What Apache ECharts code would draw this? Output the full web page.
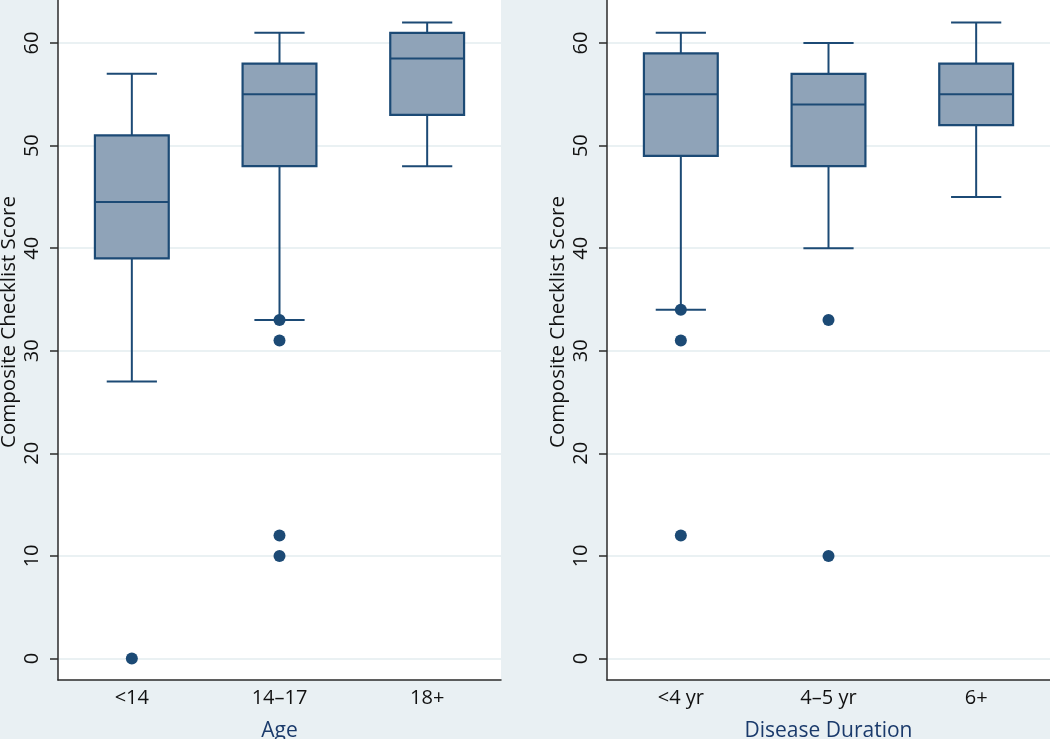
<!DOCTYPE html>
<html><head><meta charset="utf-8">
<script src="https://cdn.jsdelivr.net/npm/echarts@6/dist/echarts.min.js"></script>
<style>html,body{margin:0;padding:0;background:#e9f0f3}#c{width:1050px;height:739px}</style>
</head><body><div id="c"></div>
<script>
// ---- data ----
const ageCategories = ['<14', '14\u201317', '18+'];
// [low whisker, Q1, median, Q3, high whisker]
const ageBoxes = [
  [27, 39, 44.5, 51, 57],
  [33, 48, 55, 58, 61],
  [48, 53, 58.5, 61, 62]
];
const ageOutliers = [[0, 0], [1, 33], [1, 31], [1, 12], [1, 10]];

const durCategories = ['<4 yr', '4\u20135 yr', '6+'];
const durBoxes = [
  [34, 49, 55, 59, 61],
  [40, 48, 54, 57, 60],
  [45, 52, 55, 58, 62]
];
const durOutliers = [[0, 34], [0, 31], [0, 12], [1, 33], [1, 10]];

const yTicks = [0, 10, 20, 30, 40, 50, 60];
const yTitle = 'Composite Checklist Score';
const xTitles = ['Age', 'Disease Duration'];

// ---- styles ----
const FONT = 'Open Sans';
const NAVY = '#1c4a75';
const FILL = '#8fa3b8';
const AXIS = '#2b2b2b';

function boxRender(params, api) {
  const x = api.value(0);
  const lo = api.coord([x, api.value(1)]);
  const q1 = api.coord([x, api.value(2)]);
  const md = api.coord([x, api.value(3)]);
  const q3 = api.coord([x, api.value(4)]);
  const hi = api.coord([x, api.value(5)]);
  const band = api.size([1, 0])[0];
  const hw = band * 0.25, cw = band * 0.17;
  const cx = md[0];
  const ls = {stroke: NAVY, lineWidth: 2, fill: null};
  return {
    type: 'group',
    children: [
      {type: 'line', shape: {x1: cx, y1: q3[1], x2: cx, y2: hi[1]}, style: ls},
      {type: 'line', shape: {x1: cx, y1: q1[1], x2: cx, y2: lo[1]}, style: ls},
      {type: 'line', shape: {x1: cx - cw, y1: hi[1], x2: cx + cw, y2: hi[1]}, style: ls},
      {type: 'line', shape: {x1: cx - cw, y1: lo[1], x2: cx + cw, y2: lo[1]}, style: ls},
      {type: 'rect', shape: {x: cx - hw, y: q3[1], width: 2 * hw, height: q1[1] - q3[1]},
        style: {fill: FILL, stroke: NAVY, lineWidth: 2.2}},
      {type: 'line', shape: {x1: cx - hw, y1: md[1], x2: cx + hw, y2: md[1]}, style: ls}
    ]
  };
}

function xAxis(i, cats) {
  return {
    type: 'category', gridIndex: i, data: cats,
    axisLine: {onZero: false, lineStyle: {color: AXIS, width: 1.5}},
    axisTick: {show: false},
    axisLabel: {fontFamily: FONT, fontSize: 20, color: '#111', margin: 8},
    name: xTitles[i], nameLocation: 'middle', nameGap: 41,
    nameTextStyle: {fontFamily: FONT, fontSize: 21, color: '#1a3a6b'}
  };
}
function yAxis(i) {
  return {
    type: 'value', gridIndex: i, min: -2.1, max: 64.2,
    axisLine: {show: true, lineStyle: {color: AXIS, width: 1.5}},
    axisTick: {show: true, length: 8, customValues: yTicks, lineStyle: {color: AXIS, width: 1.5}},
    axisLabel: {customValues: yTicks, rotate: 90, fontFamily: FONT, fontSize: 20, color: '#111', margin: 16},
    splitLine: {show: true, lineStyle: {color: '#e3ecef', width: 1.5}},
    name: yTitle, nameLocation: 'middle', nameGap: 38,
    nameTextStyle: {fontFamily: FONT, fontSize: 20.5, color: '#111', padding: [0, 0, 0, 36]}
  };
}
function boxData(boxes) { return boxes.map((b, i) => [i].concat(b)); }

const chart = echarts.init(document.getElementById('c'));
chart.setOption({
  backgroundColor: '#e9f0f3',
  animation: false,
  grid: [
    {left: 58, right: 549, top: 0, bottom: 59, show: true, backgroundColor: '#fff', borderWidth: 0,
      containLabel: false, outerBoundsMode: 'none'},
    {left: 607, right: 0, top: 0, bottom: 59, show: true, backgroundColor: '#fff', borderWidth: 0,
      containLabel: false, outerBoundsMode: 'none'}
  ],
  xAxis: [xAxis(0, ageCategories), xAxis(1, durCategories)],
  yAxis: [yAxis(0), yAxis(1)],
  series: [
    {type: 'custom', xAxisIndex: 0, yAxisIndex: 0, renderItem: boxRender, data: boxData(ageBoxes),
      encode: {x: 0, y: [1, 2, 3, 4, 5]}},
    {type: 'scatter', xAxisIndex: 0, yAxisIndex: 0, data: ageOutliers, symbolSize: 12,
      itemStyle: {color: NAVY, opacity: 1}, z: 5},
    {type: 'custom', xAxisIndex: 1, yAxisIndex: 1, renderItem: boxRender, data: boxData(durBoxes),
      encode: {x: 0, y: [1, 2, 3, 4, 5]}},
    {type: 'scatter', xAxisIndex: 1, yAxisIndex: 1, data: durOutliers, symbolSize: 12,
      itemStyle: {color: NAVY, opacity: 1}, z: 5}
  ]
});
</script></body></html>
